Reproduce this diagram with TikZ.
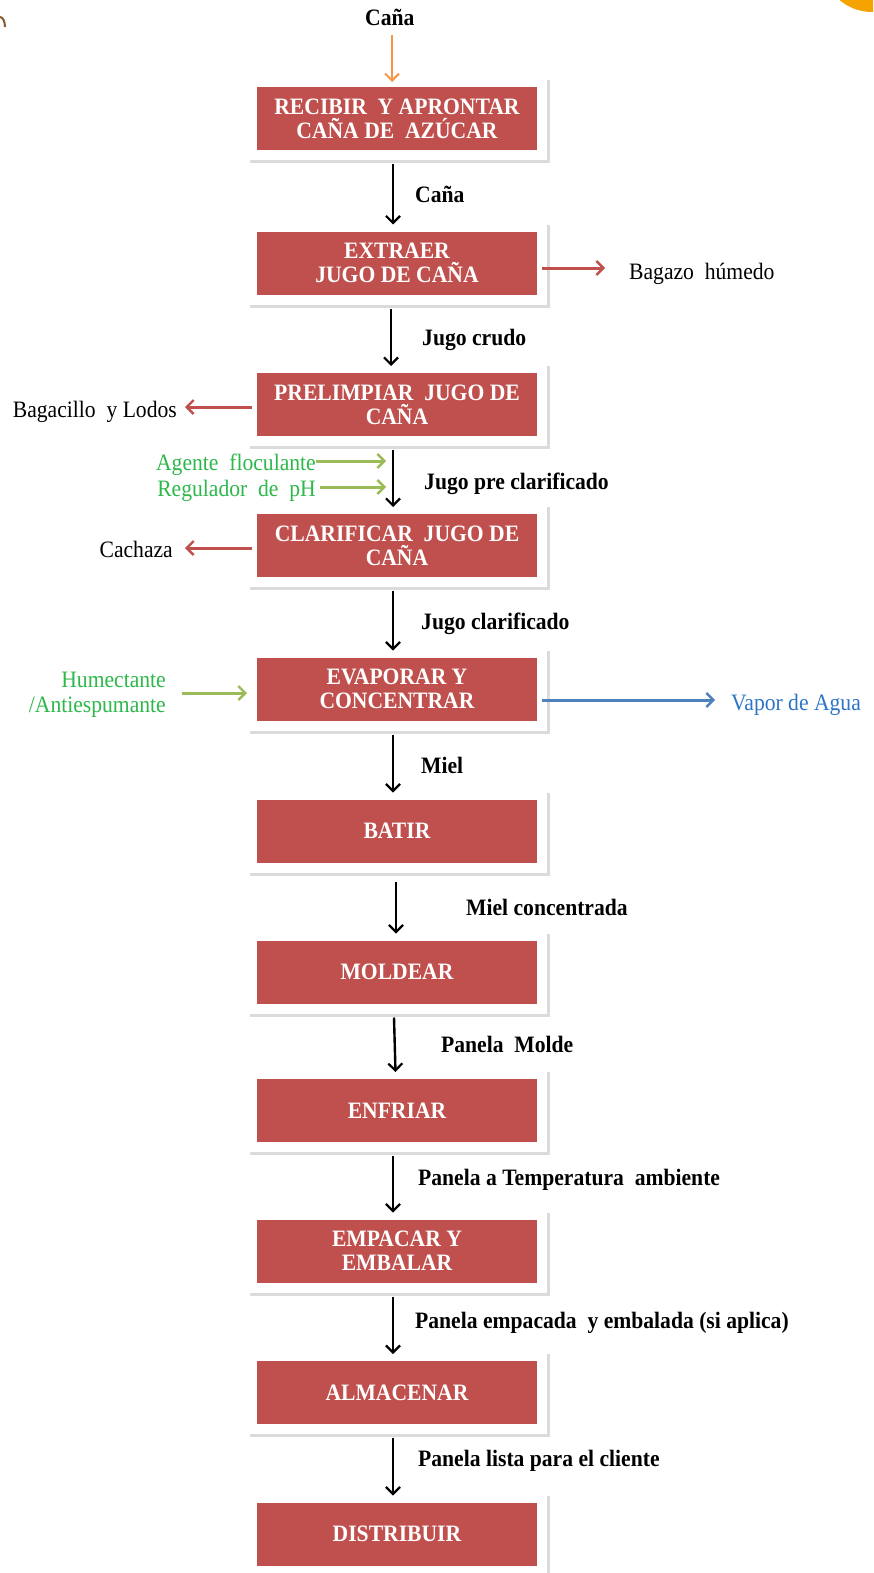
\documentclass[tikz,border=0pt]{standalone}
\usepackage{fontspec}
\setmainfont{Liberation Serif}[FakeStretch=0.92]
\usetikzlibrary{arrows.meta,shadows}
\definecolor{boxred}{HTML}{C0504D}
\definecolor{arrred}{HTML}{C0504D}
\definecolor{arrgreen}{HTML}{9BBB59}
\definecolor{txtgreen}{HTML}{2EB84B}
\definecolor{arrblue}{HTML}{4F81BD}
\definecolor{txtblue}{HTML}{2E75C6}
\definecolor{arrorange}{HTML}{F79646}
\definecolor{logoorange}{HTML}{F5A300}
\begin{document}
\begin{tikzpicture}[x=1pt,y=-1pt,
  stepbox/.style={rectangle, fill=boxred, draw=white, line width=10pt, outer sep=0pt,
    minimum width=290pt, minimum height=73pt, align=center, text=white,
    font=\fontsize{23.5}{24}\selectfont\bfseries,
    drop shadow={shadow xshift=3pt, shadow yshift=-3pt, draw=black!35, fill=black!35, line width=10pt, opacity=0.4}},
  flowlabel/.style={font=\fontsize{23.5}{24}\selectfont\bfseries, text=black, inner sep=0pt, anchor=base west},
  sidelabel/.style={font=\fontsize{23.5}{25}\selectfont, inner sep=0pt},
  mainarr/.style={draw=black, line width=2.4pt, -{Straight Barb[length=7pt,width=14pt,line width=2.2pt]}},
  redarr/.style={draw=arrred, line width=3pt, -{Straight Barb[length=7pt,width=14pt,line width=2.4pt]}},
  greenarr/.style={draw=arrgreen, line width=3pt, -{Straight Barb[length=7pt,width=14pt,line width=2.4pt]}},
  bluearr/.style={draw=arrblue, line width=3pt, -{Straight Barb[length=7pt,width=14pt,line width=2.4pt]}},
  orangearr/.style={draw=arrorange, line width=2.2pt, -{Straight Barb[length=7pt,width=14pt,line width=2pt]}}
]
\useasboundingbox (0,0) rectangle (873,1573);
\fill[white] (0,0) rectangle (873,1573);
% partial logos at the corners
\begin{scope}
\clip (0,0) rectangle (873,1573);
\fill[logoorange] (872,-38) circle (50);
\draw[brown!70!black, line width=2pt] (0,17) arc (270:360:5 and 10);
\end{scope}

% boxes
\node[stepbox] (b1) at (397,118.5) {RECIBIR\ \ Y APRONTAR\\CAÑA DE\ \ AZÚCAR};
\node[stepbox] (b2) at (397,263) {EXTRAER\\JUGO DE CAÑA};
\node[stepbox] (b3) at (397,404.5) {PRELIMPIAR\ \ JUGO DE\\CAÑA};
\node[stepbox] (b4) at (397,545.5) {CLARIFICAR\ \ JUGO DE\\CAÑA};
\node[stepbox] (b5) at (397,689) {EVAPORAR Y\\CONCENTRAR};
\node[stepbox] (b6) at (397,831) {BATIR};
\node[stepbox] (b7) at (397,972) {MOLDEAR};
\node[stepbox] (b8) at (397,1110.5) {ENFRIAR};
\node[stepbox] (b9) at (397,1251) {EMPACAR Y\\EMBALAR};
\node[stepbox] (b10) at (397,1392.5) {ALMACENAR};
\node[stepbox] (b11) at (397,1534) {DISTRIBUIR};

% input at top
\node[flowlabel] (cana0) at (365,26) {Caña};
\coordinate (o1) at (392,35);
\draw[orangearr] (o1) -- (o1 |- b1.north);

% main flow arrows
\draw[mainarr] ([xshift=-4pt,yshift=-9pt]b1.south) -- ([xshift=-4pt,yshift=2pt]b2.north);
\draw[mainarr] ([xshift=-6pt,yshift=-9pt]b2.south) -- ([xshift=-6pt,yshift=2pt]b3.north);
\draw[mainarr] ([xshift=-4pt,yshift=-9pt]b3.south) -- ([xshift=-4pt,yshift=2pt]b4.north);
\draw[mainarr] ([xshift=-4pt,yshift=-9pt]b4.south) -- ([xshift=-4pt,yshift=2pt]b5.north);
\draw[mainarr] ([xshift=-4pt,yshift=-9pt]b5.south) -- ([xshift=-4pt,yshift=2pt]b6.north);
\draw[mainarr] ([xshift=-1pt,yshift=-14pt]b6.south) -- ([xshift=-1pt,yshift=2pt]b7.north);
\draw[mainarr] ([xshift=-3pt,yshift=-9pt]b7.south) -- ([xshift=-1.5pt,yshift=2pt]b8.north);
\draw[mainarr] ([xshift=-4pt,yshift=-9pt]b8.south) -- ([xshift=-4pt,yshift=2pt]b9.north);
\draw[mainarr] ([xshift=-4pt,yshift=-9pt]b9.south) -- ([xshift=-4pt,yshift=2pt]b10.north);
\draw[mainarr] ([xshift=-4pt,yshift=-9pt]b10.south) -- ([xshift=-4pt,yshift=2pt]b11.north);

% flow labels
\node[flowlabel] (l1) at (415,202) {Caña};
\node[flowlabel] (l2) at (422,345) {Jugo crudo};
\node[flowlabel] (l3) at (424,489) {Jugo pre clarificado};
\node[flowlabel] (l4) at (421,629) {Jugo clarificado};
\node[flowlabel] (l5) at (421,773) {Miel};
\node[flowlabel] (l6) at (466,915) {Miel concentrada};
\node[flowlabel] (l7) at (441,1052) {Panela\ \ Molde};
\node[flowlabel] (l8) at (418,1185) {Panela a Temperatura\ \ ambiente};
\node[flowlabel] (l9) at (415,1328) {Panela empacada\ \ y embalada (si aplica)};
\node[flowlabel] (l10) at (418,1466) {Panela lista para el cliente};

% side outputs / inputs
\node[sidelabel, anchor=base west] (bagazo) at (629,279) {Bagazo\ \ húmedo};
\coordinate (r2) at (605,268);
\draw[redarr] (b2.east |- r2) -- (r2);

\node[sidelabel, anchor=base east] (bagacillo) at (177,417) {Bagacillo\ \ y Lodos};
\coordinate (r3) at (185,407);
\draw[redarr] (b3.west |- r3) -- (r3);

\node[sidelabel, anchor=base east, text=txtgreen] (agente) at (316,470) {Agente\ \ floculante};
\node[sidelabel, anchor=base east, text=txtgreen] (regulador) at (316,496) {Regulador\ \ de\ \ pH};
\coordinate (ga) at (386,461);
\coordinate (gr) at (386,487);
\draw[greenarr] (agente.east |- ga) -- (ga);
\draw[greenarr] ([xshift=4pt]regulador.east |- gr) -- (gr);

\node[sidelabel, anchor=base east] (cachaza) at (173,557) {Cachaza};
\coordinate (r4) at (185,548);
\draw[redarr] (b4.west |- r4) -- (r4);

\node[sidelabel, anchor=base east, text=txtgreen] (humect) at (166,687) {Humectante};
\node[sidelabel, anchor=base east, text=txtgreen] (antiesp) at (166,712) {/Antiespumante};
\coordinate (g5s) at (182,693);
\draw[greenarr] (g5s) -- ([xshift=-5pt]b5.west |- g5s);

\node[sidelabel, anchor=base west, text=txtblue] (vapor) at (731,710) {Vapor de Agua};
\coordinate (bl) at (715,700);
\draw[bluearr] (b5.east |- bl) -- (bl);
\end{tikzpicture}
\end{document}
